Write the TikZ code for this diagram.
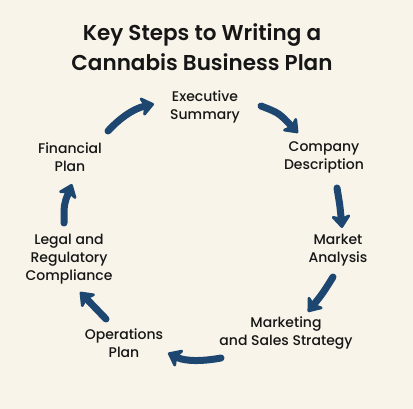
\documentclass[tikz,border=0pt]{standalone}
\usepackage{fontspec}
\setmainfont{Poppins}
\newfontfamily\lblfont{Poppins Medium}
\newfontfamily\ttlfont{Poppins SemiBold}
\usetikzlibrary{arrows.meta}
\definecolor{bgc}{HTML}{F8F4EA}
\definecolor{navy}{HTML}{1D4670}
\definecolor{ink}{HTML}{161616}
\tikzset{
  lbl/.style={align=center, font=\lblfont\fontsize{14}{18}\selectfont, text=ink, inner sep=0pt},
  ttl/.style={align=center, font=\ttlfont\fontsize{21.5}{30}\selectfont, text=ink, inner sep=0pt},
  arr/.style={draw=navy, line width=7pt, line cap=round, -{Stealth[length=15pt,width=23pt,inset=4pt,round]}}
}
\begin{document}
\begin{tikzpicture}[x=1pt,y=-1pt]
\fill[bgc] (0,0) rectangle (413,409);
\useasboundingbox (0,0) rectangle (413,409);
\node[ttl] (title) at (202,47) {Key Steps to Writing a\\Cannabis Business Plan};
\node[lbl] (exec) at (205,107) {Executive\\Summary};
\node[lbl] (comp) at (324,157) {Company\\Description};
\node[lbl] (mkt) at (338,250) {Market\\Analysis};
\node[lbl] (msale) at (286,333) {Marketing\\and Sales Strategy};
\node[lbl] (ops) at (124,343) {Operations\\Plan};
\node[lbl] (legal) at (69,259) {Legal and\\Regulatory\\Compliance};
\node[lbl] (fin) at (70,157) {Financial\\Plan};
\coordinate (a1s) at (108,131); \coordinate (a1e) at (154,104);
\coordinate (a2s) at (261,106); \coordinate (a2e) at (298,133);
\coordinate (a3s) at (337,188); \coordinate (a3e) at (342,228);
\coordinate (a4s) at (333,277); \coordinate (a4e) at (308,312);
\coordinate (a5s) at (221,358); \coordinate (a5e) at (168,353);
\coordinate (a6s) at (106,319); \coordinate (a6e) at (80,292);
\coordinate (a7s) at (64,223); \coordinate (a7e) at (72,184);
\draw[arr] (a1s) .. controls (118,120) and (132,109) .. (a1e);
\draw[arr] (a2s) .. controls (279,113) .. (a2e);
\draw[arr] (a3s) .. controls (340,206) .. (a3e);
\draw[arr] (a4s) .. controls (323,293) .. (a4e);
\draw[arr] (a5s) .. controls (205,361) and (186,362) .. (a5e);
\draw[arr] (a6s) -- (a6e);
\draw[arr] (a7s) .. controls (64,204) .. (a7e);
\end{tikzpicture}
\end{document}
